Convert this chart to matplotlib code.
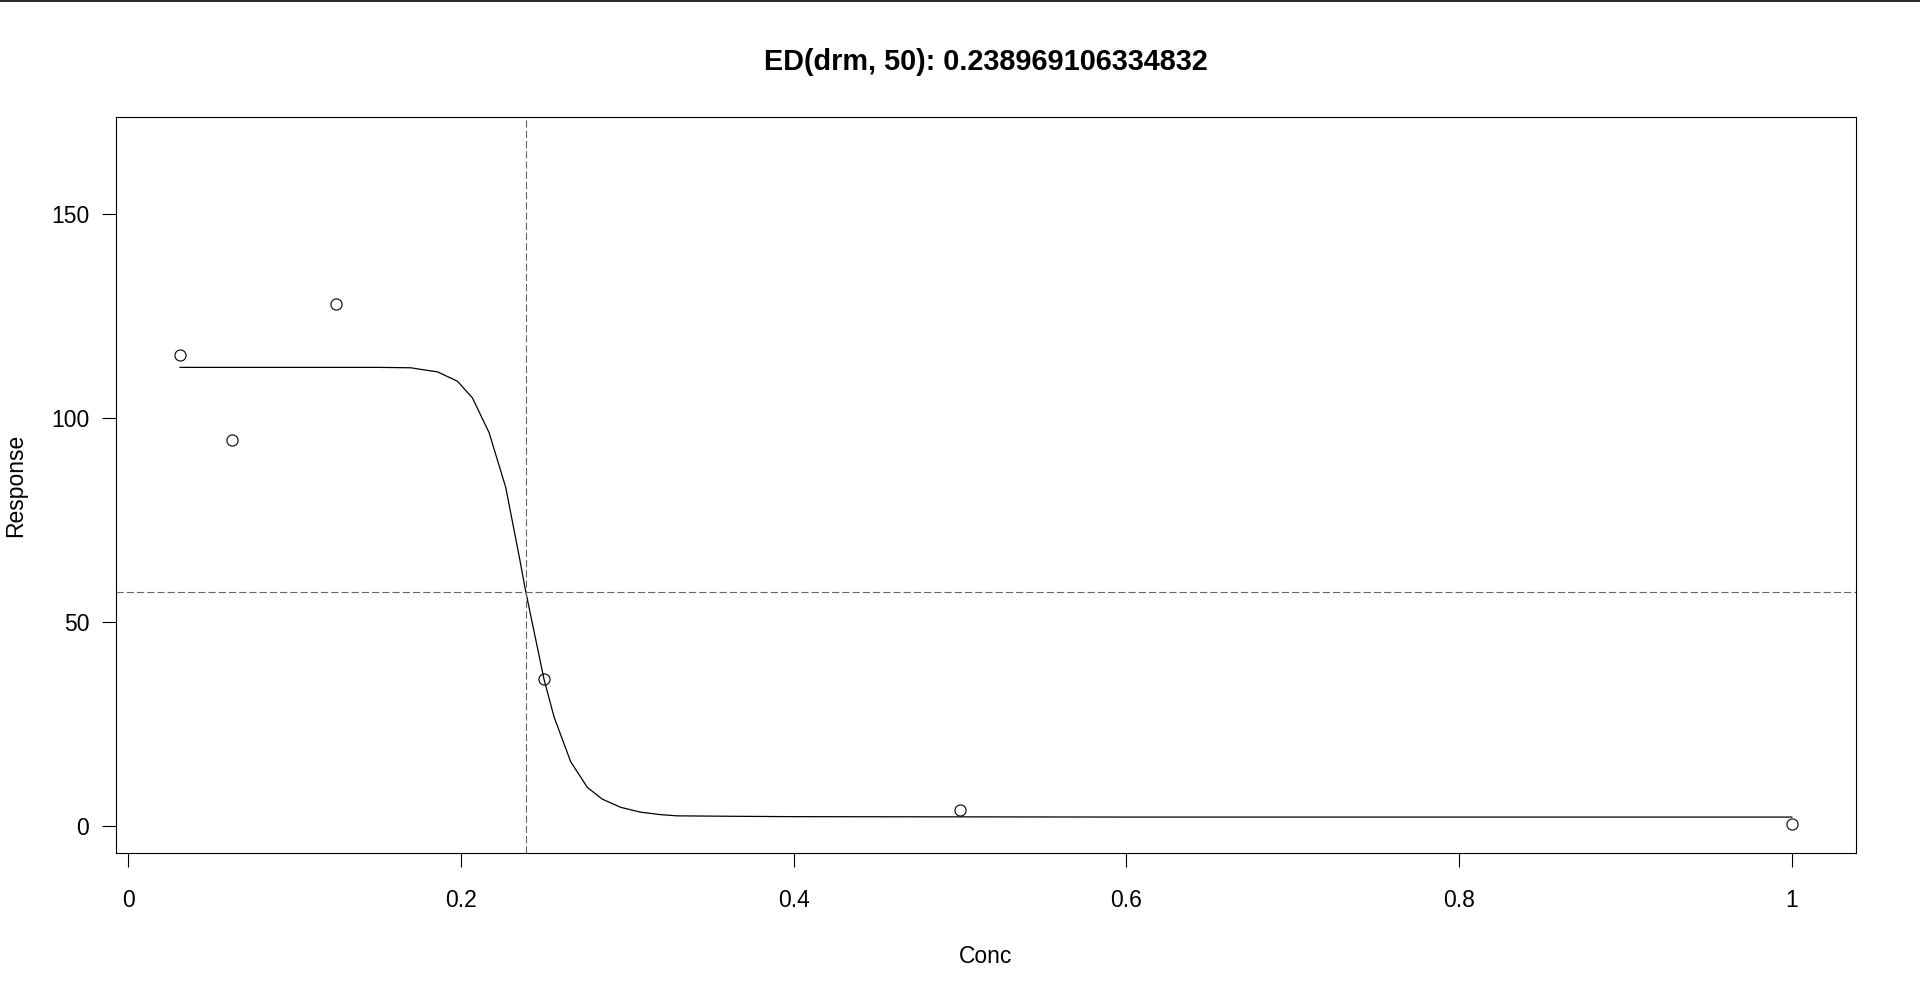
#!/usr/bin/env python3

import matplotlib
matplotlib.use("Agg")
import matplotlib.pyplot as plt
from matplotlib.lines import Line2D

# observed data points
conc = [0.03125, 0.0625, 0.125, 0.25, 0.5, 1.0]
response = [115.4, 94.5, 127.9, 36.0, 4.0, 0.5]

# fitted curve
curve_x = [0.03125, 0.10, 0.15, 0.170, 0.176, 0.186, 0.198, 0.207, 0.217,
           0.227, 0.2355, 0.239, 0.250, 0.256, 0.266, 0.276, 0.285, 0.296,
           0.308, 0.320, 0.330, 0.360, 0.400, 0.600, 1.0]
curve_y = [112.4, 112.4, 112.4, 112.3, 111.9, 111.3, 109.0, 104.9, 96.4,
           83.0, 65.2, 57.5, 36.0, 26.8, 15.8, 9.5, 6.6, 4.6,
           3.4, 2.8, 2.5, 2.4, 2.3, 2.2, 2.2]

ed50 = 0.238969106334832
ed50_response = 57.3

x_ticks = [0, 0.2, 0.4, 0.6, 0.8, 1.0]
x_ticklabels = ["0", "0.2", "0.4", "0.6", "0.8", "1"]
y_ticks = [0, 50, 100, 150]

plt.rcParams['font.family'] = ['Liberation Sans', 'DejaVu Sans']

fig = plt.figure(figsize=(19.2, 10), dpi=100)
ax = fig.add_axes([0.0602, 0.1467, 0.9066, 0.736])

ax.plot(curve_x, curve_y, color='black', linewidth=0.9)
ax.plot(conc, response, linestyle='none', marker='o', markersize=8,
        markerfacecolor='none', markeredgecolor='black', markeredgewidth=0.8)

ax.axvline(ed50, color='#666666', linewidth=0.8, dashes=(6.5, 2.7))
ax.axhline(ed50_response, color='#666666', linewidth=0.8, dashes=(6.5, 2.7))

ax.set_xlim(-0.0075, 1.03875)
ax.set_ylim(-6.68, 173.68)

ax.set_xticks(x_ticks)
ax.set_xticklabels(x_ticklabels)
ax.set_yticks(y_ticks)
ax.tick_params(axis='both', direction='out', length=10, width=0.8,
               labelsize=16.5)
ax.tick_params(axis='x', pad=16)
ax.tick_params(axis='y', pad=9)

for sp in ax.spines.values():
    sp.set_linewidth(0.8)

fig.text(0.5135, 0.9375, "ED(drm, 50): 0.238969106334832", ha='center',
         va='center', fontsize=20.8, fontweight='bold')
fig.text(0.5135, 0.0435, "Conc", ha='center', va='center', fontsize=16.5)
fig.text(0.008, 0.515, "Response", ha='center', va='center', fontsize=16.5,
         rotation=90)

# thin border line along the top edge of the screenshot
fig.add_artist(Line2D([0, 1], [0.9993, 0.9993], transform=fig.transFigure,
                      color='black', linewidth=1.2))

plt.savefig("out.png", dpi=100)
